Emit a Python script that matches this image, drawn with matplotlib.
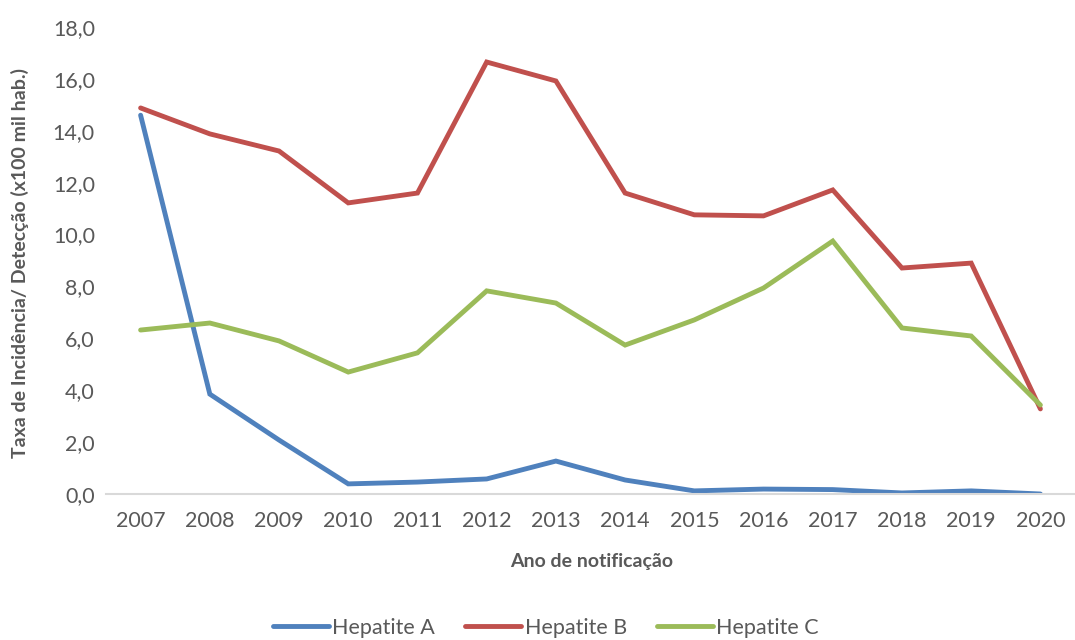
import matplotlib
matplotlib.use("Agg")
import matplotlib.pyplot as plt
from matplotlib.ticker import FuncFormatter

years = ["2007", "2008", "2009", "2010", "2011", "2012", "2013", "2014",
         "2015", "2016", "2017", "2018", "2019", "2020"]
hep_a = [14.6, 3.85, 2.08, 0.39, 0.46, 0.58, 1.27, 0.54, 0.12, 0.19, 0.17, 0.04, 0.12, 0.0]
hep_b = [14.88, 13.88, 13.22, 11.22, 11.6, 16.65, 15.92, 11.6, 10.76, 10.72, 11.72, 8.71, 8.9, 3.28]
hep_c = [6.32, 6.59, 5.9, 4.7, 5.44, 7.83, 7.36, 5.74, 6.71, 7.94, 9.75, 6.4, 6.09, 3.43]
series_names = ["Hepatite A", "Hepatite B", "Hepatite C"]
colors = ["#4F81BD", "#C0504D", "#9BBB59"]

plt.rcParams['font.family'] = ['Lato', 'DejaVu Sans']

fig = plt.figure(figsize=(10.75, 6.4), dpi=100)
ax = fig.add_axes([106/1075, 1 - 494/640, 1 - 106/1075, (494 - 27)/640])

x = list(range(len(years)))
for vals, name, c in zip([hep_a, hep_b, hep_c], series_names, colors):
    ax.plot(x, vals, color=c, lw=3.5, label=name, solid_capstyle='round', solid_joinstyle='miter')

ax.set_xlim(-0.5, len(years) - 0.5)
ax.set_ylim(0, 18)
ax.set_yticks(range(0, 19, 2))
ax.yaxis.set_major_formatter(FuncFormatter(lambda v, p: f"{v:.1f}".replace(".", ",")))
ax.set_xticks(x)
ax.set_xticklabels(years)

for s in ["top", "right", "left"]:
    ax.spines[s].set_visible(False)
ax.spines["bottom"].set_color("#D9D9D9")
ax.spines["bottom"].set_linewidth(1.5)
ax.tick_params(axis="both", length=0, labelsize=15.5, colors="#595959")
ax.tick_params(axis="y", pad=8)
ax.tick_params(axis="x", pad=12)

ax.set_xlabel("Ano de notificação", fontsize=14, fontweight="bold", color="#595959")
ax.set_ylabel("Taxa de Incidência/ Detecção (x100 mil hab.)", fontsize=14, fontweight="bold",
              color="#595959")
ax.xaxis.set_label_coords((592 - 106) / (1075 - 106), -(561 - 494) / 467)
ax.xaxis.label.set_va("center")
ax.yaxis.set_label_coords(-(106 - 20) / (1075 - 106), (494 - 263) / 467)
ax.yaxis.label.set_va("center")

leg = fig.legend(loc="center", bbox_to_anchor=(546/1075, 1 - 628/640), ncol=3, frameon=False,
                 fontsize=15.5, handlelength=2.6, columnspacing=1.4, handletextpad=0.15)
for t in leg.get_texts():
    t.set_color("#595959")

fig.savefig("out.png", dpi=100)
